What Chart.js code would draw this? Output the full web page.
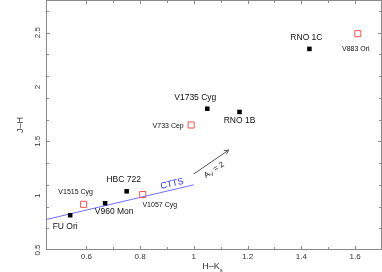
<!DOCTYPE html>
<html>
<head>
<meta charset="utf-8">
<script src="https://cdn.jsdelivr.net/npm/chart.js@4/dist/chart.umd.min.js"></script>
<style>
  html, body { margin: 0; padding: 0; background: #fff; }
</style>
</head>
<body>
<canvas id="ccd" width="382" height="272"></canvas>
<script>
// FUor-type objects in the J-H / H-Ks colour plane
const filledNames = ["FU Ori", "V960 Mon", "HBC 722", "V1735 Cyg", "RNO 1B", "RNO 1C"];
const filledHK = [0.54, 0.67, 0.75, 1.05, 1.17, 1.43];
const filledJH = [0.82, 0.93, 1.04, 1.80, 1.77, 2.35];

const openNames = ["V1515 Cyg", "V1057 Cyg", "V733 Cep", "V883 Ori"];
const openHK = [0.59, 0.81, 0.99, 1.61];
const openJH = [0.92, 1.01, 1.65, 2.49];

// classical T Tauri locus and the A_V = 2 reddening vector
const cttsHK = [0.45, 1.0];
const cttsJH = [0.78, 1.10];
const avHK = [1.0, 1.13];
const avJH = [1.2, 1.42];

const xTickLabels = ["0.6", "0.8", "1", "1.2", "1.4", "1.6"];
const yTickLabels = ["0.5", "1", "1.5", "2", "2.5"];

// label placement: [dx, dy, font size] relative to the marker
const labelStyle = {
  "FU Ori": [-5, 11, 8.5],
  "V960 Mon": [9, 8, 8.5],
  "HBC 722": [-3, -12, 8.5],
  "V1735 Cyg": [-12, -11, 8.5],
  "RNO 1B": [0, 9, 8.5],
  "RNO 1C": [-3, -11, 8.5],
  "V1515 Cyg": [-8, -12, 7],
  "V1057 Cyg": [17, 10, 7],
  "V733 Cep": [-23, 1, 7],
  "V883 Ori": [-2, 15, 7]
};

const FONT = '"Liberation Sans", Arial, Helvetica, sans-serif';

const toPts = (xs, ys) => xs.map((v, i) => ({ x: v, y: ys[i] }));

const decor = {
  id: "decor",
  afterDatasetsDraw(chart) {
    const { ctx, chartArea: a, scales: { x, y } } = chart;
    ctx.save();

    // box
    ctx.strokeStyle = "#8a8a8a";
    ctx.lineWidth = 1;
    ctx.strokeRect(a.left + 0.5, a.top + 0.5, a.width - 1, a.height - 1);

    // inward ticks on all four sides
    const isMajor = (v, list) => list.some(s => Math.abs(parseFloat(s) - v) < 1e-6);
    ctx.beginPath();
    x.ticks.forEach(t => {
      const px = Math.round(x.getPixelForValue(t.value)) + 0.5;
      if (px <= a.left + 1 || px >= a.right - 1) return;
      const len = isMajor(t.value, xTickLabels) ? 4 : 3;
      ctx.moveTo(px, a.bottom); ctx.lineTo(px, a.bottom - len);
      ctx.moveTo(px, a.top); ctx.lineTo(px, a.top + len);
    });
    y.ticks.forEach(t => {
      const py = Math.round(y.getPixelForValue(t.value)) + 0.5;
      if (py <= a.top + 1 || py >= a.bottom - 1) return;
      const len = isMajor(t.value, yTickLabels) ? 4 : 3;
      ctx.moveTo(a.left, py); ctx.lineTo(a.left + len, py);
      ctx.moveTo(a.right, py); ctx.lineTo(a.right - len, py);
    });
    ctx.stroke();

    // tick labels
    ctx.fillStyle = "#333";
    ctx.font = "8px " + FONT;
    ctx.textAlign = "center";
    ctx.textBaseline = "middle";
    xTickLabels.forEach(s => {
      ctx.fillText(s, x.getPixelForValue(parseFloat(s)), a.bottom + 7);
    });
    yTickLabels.forEach(s => {
      ctx.save();
      ctx.translate(a.left - 8, y.getPixelForValue(parseFloat(s)));
      ctx.rotate(-Math.PI / 2);
      ctx.fillText(s, 0, 0);
      ctx.restore();
    });

    // axis titles
    ctx.font = "9px " + FONT;
    ctx.save();
    ctx.translate(21, (a.top + a.bottom) / 2);
    ctx.rotate(-Math.PI / 2);
    ctx.fillText("J\u2013H", 0, 0);
    ctx.restore();
    const tx = (a.left + a.right) / 2 - 3, ty = a.bottom + 17;
    ctx.textAlign = "left";
    const w = ctx.measureText("H\u2013K").width;
    ctx.fillText("H\u2013K", tx - w / 2, ty);
    ctx.font = "6px " + FONT;
    ctx.fillText("s", tx + w / 2, ty + 3);

    // point labels
    ctx.fillStyle = "#111";
    ctx.textAlign = "center";
    const labelSet = (idx, names) => {
      chart.getDatasetMeta(idx).data.forEach((el, i) => {
        const [dx, dy, fs] = labelStyle[names[i]];
        ctx.font = fs + "px " + FONT;
        ctx.fillText(names[i], el.x + dx, el.y + dy);
      });
    };
    labelSet(0, filledNames);
    labelSet(1, openNames);

    // CTTS label along the locus
    const cm = chart.getDatasetMeta(2).data;
    const cAng = Math.atan2(cm[1].y - cm[0].y, cm[1].x - cm[0].x);
    ctx.save();
    ctx.fillStyle = "#2a2aff";
    ctx.font = "9px " + FONT;
    ctx.translate(172, 184);
    ctx.rotate(cAng);
    ctx.fillText("CTTS", 0, 0);
    ctx.restore();

    // reddening arrow head and label
    const am = chart.getDatasetMeta(3).data;
    const p0 = am[0], p1 = am[1];
    const ang = Math.atan2(p1.y - p0.y, p1.x - p0.x);
    ctx.strokeStyle = "#555";
    ctx.lineWidth = 1;
    ctx.beginPath();
    ctx.moveTo(p1.x - 5 * Math.cos(ang - 0.45), p1.y - 5 * Math.sin(ang - 0.45));
    ctx.lineTo(p1.x, p1.y);
    ctx.lineTo(p1.x - 5 * Math.cos(ang + 0.45), p1.y - 5 * Math.sin(ang + 0.45));
    ctx.stroke();

    ctx.save();
    ctx.fillStyle = "#222";
    ctx.translate(214, 170);
    ctx.rotate(ang);
    ctx.font = "8px " + FONT;
    ctx.textAlign = "left";
    const aw = ctx.measureText("A").width;
    ctx.font = "5.5px " + FONT;
    const vw = ctx.measureText("V").width;
    ctx.font = "8px " + FONT;
    const rw = ctx.measureText(" = 2").width;
    const x0 = -(aw + vw + rw) / 2;
    ctx.fillText("A", x0, 0);
    ctx.font = "5.5px " + FONT;
    ctx.fillText("V", x0 + aw, 2.5);
    ctx.font = "8px " + FONT;
    ctx.fillText(" = 2", x0 + aw + vw, 0);
    ctx.restore();

    ctx.restore();
  }
};

new Chart(document.getElementById("ccd"), {
  type: "scatter",
  data: {
    datasets: [
      {
        label: "FUors",
        data: toPts(filledHK, filledJH),
        pointStyle: "rect",
        pointRadius: 3.2,
        backgroundColor: "#000",
        borderColor: "#000",
        borderWidth: 0
      },
      {
        label: "other",
        data: toPts(openHK, openJH),
        pointStyle: "rect",
        pointRadius: 4.3,
        backgroundColor: "rgba(0,0,0,0)",
        borderColor: "#ff4d4d",
        borderWidth: 1
      },
      {
        label: "CTTS",
        data: toPts(cttsHK, cttsJH),
        showLine: true,
        pointRadius: 0,
        borderColor: "#6f6fff",
        borderWidth: 1
      },
      {
        label: "Av",
        data: toPts(avHK, avJH),
        showLine: true,
        pointRadius: 0,
        borderColor: "#555",
        borderWidth: 1
      }
    ]
  },
  options: {
    responsive: false,
    animation: false,
    layout: { autoPadding: false, padding: { left: 46, right: 0, top: 0, bottom: 22 } },
    plugins: { legend: { display: false }, tooltip: { enabled: false } },
    scales: {
      x: { type: "linear", min: 0.45, max: 1.7, display: false, ticks: { stepSize: 0.1 } },
      y: { type: "linear", min: 0.5, max: 2.8, display: false, ticks: { stepSize: 0.1 } }
    }
  },
  plugins: [decor]
});
</script>
</body>
</html>
